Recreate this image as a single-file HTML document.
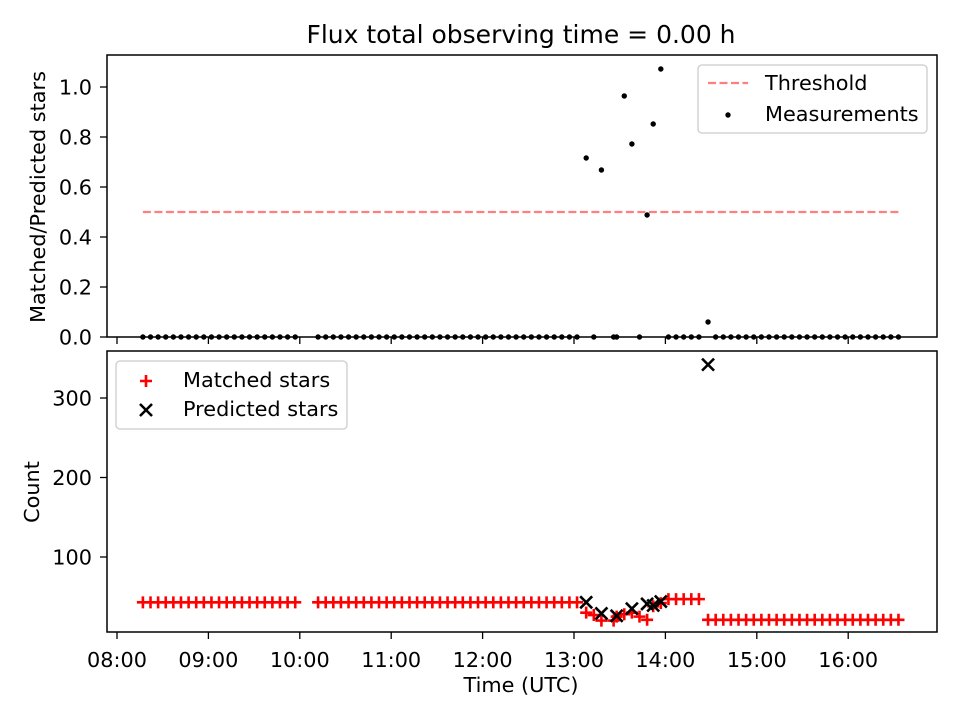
<!DOCTYPE html>
<html><head><meta charset="utf-8"><style>
body{margin:0;background:#fff;}
svg{font-family:"DejaVu Sans","Liberation Sans",sans-serif;}
</style></head><body>
<svg id="chart" width="960" height="720" viewBox="0 0 960 720">
<rect width="960" height="720" fill="#fff"/>
<text x="521" y="43" font-size="25" text-anchor="middle">Flux total observing time = 0.00 h</text>
<g id="topg"></g><g id="botg"></g>
</svg>
<script>
const measTimes=[497,502,507,512,517,522,527,532,537,542,547,552,557,562,567,572,577,582,587,592,597,612,617,622,627,632,637,642,647,652,657,662,667,672,677,682,687,692,697,702,707,712,717,722,727,732,737,742,747,752,757,762,767,772,777,782,788,793,798,806,808,813,818,823,828,832,837,842,847,852,857,862,868,873,878,883,888,893,898,903,908,913,918,923,928,933,938,943,948,953,958,963,968,973,978,983,988,993];
const measVals=[0,0,0,0,0,0,0,0,0,0,0,0,0,0,0,0,0,0,0,0,0,0,0,0,0,0,0,0,0,0,0,0,0,0,0,0,0,0,0,0,0,0,0,0,0,0,0,0,0,0,0,0,0,0,0,0,0.716,0,0.668,0,0,0.964,0.772,0,0.488,0.852,1.072,0,0,0,0,0,0.06,0,0,0,0,0,0,0,0,0,0,0,0,0,0,0,0,0,0,0,0,0,0,0,0,0,0,0];
const matchedTimes=measTimes;
const matchedVals=[43,43,43,43,43,43,43,43,43,43,43,43,43,43,43,43,43,43,43,43,43,43,43,43,43,43,43,43,43,43,43,43,43,43,43,43,43,43,43,43,43,43,43,43,43,43,43,43,43,43,43,43,43,43,43,43,30,27,20,20,25,28,30,25,21,38,42,47,47,47,47,47,21,21,21,21,21,21,21,21,21,21,21,21,21,21,21,21,21,21,21,21,21,21,21,21,21,21,21,21];
const predTimes=[788,798,808,818,828,832,837,868];
const predVals=[43,29,26,35,41,39,44,342];
const xTicks=["08:00","09:00","10:00","11:00","12:00","13:00","14:00","15:00","16:00"];
const topTicks=[0,0.2,0.4,0.6,0.8,1.0];
const botTicks=[100,200,300];
const NS="http://www.w3.org/2000/svg";
const X0=107,X1=937,FS=20.8;
const xs=t=>117+(t-480)/60*91.4;
const yTop=v=>337-v*250;
const yBot=v=>636.5-v*0.795;
function mk(tag,attrs,parent,text){const e=document.createElementNS(NS,tag);for(const k in attrs)e.setAttribute(k,attrs[k]);if(text!==undefined)e.textContent=text;parent.appendChild(e);return e;}
const topG=document.getElementById('topg'),botG=document.getElementById('botg');
let th=mk('line',{x1:xs(497),x2:xs(995),y1:yTop(0.5),y2:yTop(0.5),stroke:'#ff7f7f','stroke-width':2.2,'stroke-dasharray':'8,3.5'},topG);


measTimes.forEach((t,i)=>{const v=measVals[i]===undefined?0:measVals[i];
const c=mk('circle',{cx:xs(t),cy:yTop(v),r:2.7,fill:'#000'},topG);

});
let f1=mk('rect',{x:X0,y:55,width:X1-X0,height:282,fill:'none',stroke:'#000','stroke-width':1.5},topG);


topTicks.forEach(v=>{const y=yTop(v);mk('line',{x1:X0-7,x2:X0,y1:y,y2:y,stroke:'#000','stroke-width':1.3},topG);
const l=mk('text',{x:X0-15,y:y+7.5,'font-size':FS,'text-anchor':'end'},topG,v.toFixed(1));

});
xTicks.forEach((s,i)=>{const x=xs(480+i*60);mk('line',{x1:x,x2:x,y1:337,y2:344,stroke:'#000','stroke-width':1.3},topG);});
let yl1=mk('text',{x:0,y:0,'font-size':FS,'text-anchor':'middle',transform:'translate(45,197) rotate(-90)'},topG,'Matched/Predicted stars');


let lg1=mk('g',{},topG);


mk('rect',{x:698,y:65,width:229,height:68,rx:4,fill:'#fff',stroke:'#ccc','stroke-width':1.3},lg1);
mk('line',{x1:708,x2:748,y1:83,y2:83,stroke:'#ff7f7f','stroke-width':2.2,'stroke-dasharray':'8,3.5'},lg1);
mk('text',{x:765,y:90,'font-size':FS},lg1,'Threshold');
mk('circle',{cx:728,cy:115,r:2.7,fill:'#000'},lg1);
mk('text',{x:765,y:121,'font-size':FS},lg1,'Measurements');
matchedTimes.forEach((t,i)=>{const v=matchedVals[i]===undefined?21:matchedVals[i];
const x=xs(t),y=yBot(v);
const p=mk('path',{d:`M${x-6},${y}H${x+6}M${x},${y-6}V${y+6}`,stroke:'#f00','stroke-width':2.6},botG);

});
predTimes.forEach((t,i)=>{const x=xs(t),y=yBot(predVals[i]);
const p=mk('path',{d:`M${x-6},${y-6}L${x+6},${y+6}M${x-6},${y+6}L${x+6},${y-6}`,stroke:'#000','stroke-width':2.6},botG);

});
let f2=mk('rect',{x:X0,y:351,width:X1-X0,height:281,fill:'none',stroke:'#000','stroke-width':1.5},botG);


botTicks.forEach(v=>{const y=yBot(v);mk('line',{x1:X0-7,x2:X0,y1:y,y2:y,stroke:'#000','stroke-width':1.3},botG);
const l=mk('text',{x:X0-15,y:y+7.5,'font-size':FS,'text-anchor':'end'},botG,String(v));

});
xTicks.forEach((s,i)=>{const x=xs(480+i*60);mk('line',{x1:x,x2:x,y1:632,y2:639,stroke:'#000','stroke-width':1.3},botG);
const l=mk('text',{x:x,y:667,'font-size':FS,'text-anchor':'middle'},botG,s);

});
let xt=mk('text',{x:521,y:692,'font-size':FS,'text-anchor':'middle'},botG,'Time (UTC)');


let yl2=mk('text',{x:0,y:0,'font-size':FS,'text-anchor':'middle',transform:'translate(39,492) rotate(-90)'},botG,'Count');


let lg2=mk('g',{},botG);


mk('rect',{x:116,y:361,width:231,height:68,rx:4,fill:'#fff',stroke:'#ccc','stroke-width':1.3},lg2);
mk('path',{d:'M140,381H152M146,375V387',stroke:'#f00','stroke-width':2.6},lg2);
mk('text',{x:183,y:387,'font-size':FS},lg2,'Matched stars');
mk('path',{d:'M140,404L152,416M140,416L152,404',stroke:'#000','stroke-width':2.6},lg2);
mk('text',{x:183,y:416,'font-size':FS},lg2,'Predicted stars');
</script>
</body></html>
